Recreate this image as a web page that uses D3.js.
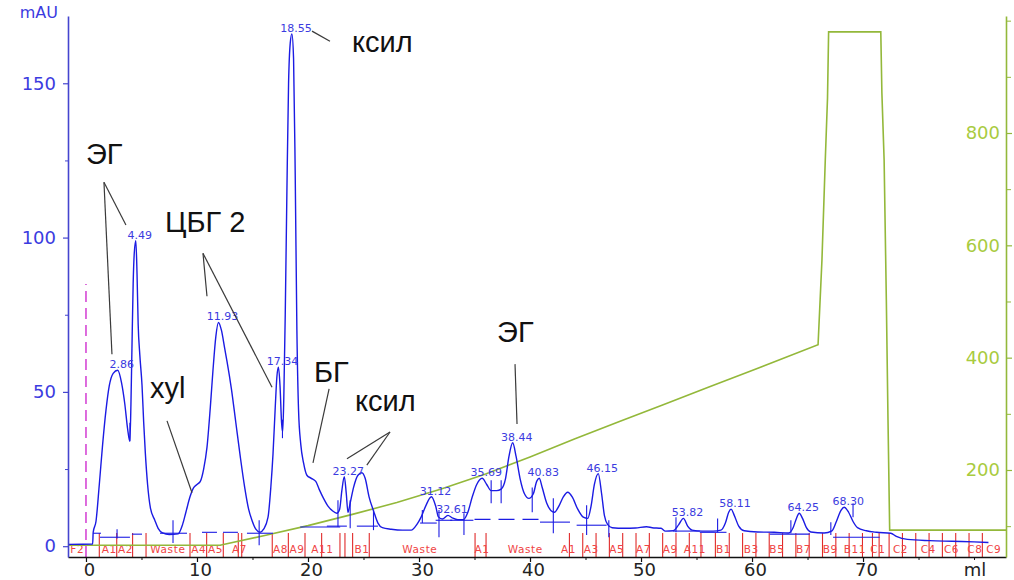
<!DOCTYPE html>
<html>
<head>
<meta charset="utf-8">
<script src="https://cdn.jsdelivr.net/npm/d3@7"></script>
<style>
  body { margin: 0; background: #fff; }
  svg { display: block; }
</style>
</head>
<body>
<svg id="chart" width="1014" height="580"></svg>
<script>
// UV absorbance trace: [volume ml, mAU]
const uvTrace = [
  [-1.62, 0.6], [0.6, 0.7], [0.65, 4.5], [0.9, 8], [1.2, 20], [1.5, 33], [1.8, 44],
  [2.1, 52], [2.45, 56], [2.86, 57], [3.2, 53], [3.5, 46], [3.75, 38], [3.95, 34],
  [4.05, 46], [4.14, 64], [4.25, 85], [4.35, 95], [4.49, 99], [4.6, 88], [4.7, 72],
  [4.85, 62], [5.05, 52], [5.2, 40], [5.35, 30], [5.55, 20], [5.8, 12.5], [6.2, 8.4],
  [6.5, 5.8], [6.9, 4.3], [7.5, 3.8], [8.3, 4], [8.7, 7], [9.0, 11], [9.37, 16],
  [9.7, 19], [10.0, 20], [10.3, 21], [10.6, 25], [10.9, 32], [11.2, 45], [11.44, 57],
  [11.7, 68], [11.93, 72.5], [12.2, 70], [12.5, 64], [12.7, 60], [13.1, 51], [13.5, 40],
  [13.9, 29], [14.3, 19], [14.65, 12], [14.95, 8.4], [15.3, 5.5], [15.68, 4.5], [16.0, 5.5],
  [16.4, 9.4], [16.65, 19], [16.85, 30], [17.05, 45], [17.2, 55], [17.34, 58], [17.48, 52],
  [17.62, 40], [17.72, 37], [17.82, 48], [17.95, 75], [18.1, 115], [18.25, 150], [18.4, 163],
  [18.55, 166], [18.7, 158], [18.85, 120], [19.0, 70], [19.15, 44], [19.35, 33], [19.6, 27],
  [19.9, 23], [20.3, 22], [20.7, 21], [21.0, 18.5], [21.4, 15.5], [21.8, 13], [22.2, 11.5],
  [22.6, 10.7], [22.85, 12], [23.05, 18], [23.27, 22.5], [23.45, 17], [23.6, 11], [23.8, 14],
  [24.1, 19], [24.5, 23], [24.85, 23.8], [25.15, 22], [25.5, 16], [25.9, 11.5], [26.3, 7.5],
  [26.7, 6], [27.5, 5.5], [28.5, 5.2], [29.3, 5.2], [29.8, 7], [30.2, 9.5], [30.6, 13],
  [31.12, 16], [31.5, 13], [31.75, 9.5], [32.1, 8.8], [32.61, 10], [33.0, 9.2], [33.5, 8.6],
  [34.0, 8.6], [34.4, 11], [34.8, 16], [35.2, 20], [35.69, 22], [36.1, 20], [36.5, 18],
  [37.0, 18], [37.4, 18.5], [37.8, 22], [38.1, 29], [38.44, 33.5], [38.75, 29], [39.1, 22],
  [39.5, 17], [39.9, 15.5], [40.3, 17], [40.6, 21], [40.83, 22], [41.1, 19], [41.5, 14],
  [41.9, 11.5], [42.2, 11], [42.6, 13], [43.0, 16], [43.4, 17.5], [43.8, 16], [44.3, 12],
  [44.8, 9.4], [45.2, 9], [45.5, 13], [45.8, 20], [46.15, 23.5], [46.45, 17], [46.7, 10],
  [47.0, 7], [47.4, 6], [48.5, 5.8], [49.5, 5.9], [50.5, 6.3], [51.0, 6.0], [51.8, 5.8],
  [52.2, 4.9], [52.9, 5], [53.4, 7], [53.82, 9], [54.2, 6.5], [54.6, 5.2], [55.5, 4.9],
  [56.5, 4.9], [57.2, 5.2], [57.6, 7.5], [57.9, 11], [58.11, 12], [58.4, 10], [58.8, 6.5],
  [59.3, 5], [60.5, 4.6], [62.0, 4.5], [63.3, 4.3], [63.7, 6], [64.0, 9], [64.25, 10.7],
  [64.55, 9], [64.9, 6], [65.3, 4.6], [66.5, 4.3], [67.2, 5], [67.6, 8], [68.0, 11.5],
  [68.3, 12.6], [68.7, 11], [69.1, 8], [69.5, 6], [70.3, 5], [71.2, 4.5], [72.5, 4.2],
  [73.0, 3.2], [74.0, 2.2], [76.0, 1.8], [78.0, 1.6], [80.0, 1.4], [81.3, 1.2]
];

// Gradient / concentration trace on the right axis: [volume ml, value]
const gradientTrace = [
  [-1.62, 66], [12.07, 66], [16, 83], [20, 101], [24, 121], [28, 142], [32, 166],
  [36, 193], [40, 223], [44, 255], [48, 286], [52, 316], [56, 347], [60, 377],
  [65.95, 423], [66.3, 574], [66.6, 752], [66.8, 862], [66.9, 980], [71.6, 980],
  [71.7, 871], [71.9, 752], [72.1, 503], [72.25, 289], [72.4, 93], [82.88, 93]
];

// Retention volumes printed above the peaks
const peakLabels = ["2.86", "4.49", "11.93", "17.34", "18.55", "23.27", "31.12", "32.61",
  "35.69", "38.44", "40.83", "46.15", "53.82", "58.11", "64.25", "68.30"];

// Integration baselines [from ml, to ml, mAU] and peak drop lines [ml, low mAU, high mAU]
const baselineSegments = [
  [0.63, 1.35, 4.2], [1.26, 3.96, 2.9], [4.14, 5.05, 3.9], [6.67, 9.1, 4.2],
  [10.45, 11.8, 4.5], [12.34, 13.69, 4.5], [14.5, 16.85, 4.2], [19.3, 22.9, 6.2],
  [21.7, 23.5, 6.5], [24.4, 26.3, 6.5], [30.1, 31.6, 7.5], [31.5, 33.0, 8.4],
  [32.8, 34.9, 8.4], [40.9, 43.6, 7.8], [44.2, 46.9, 6.8], [52.9, 55.3, 4.9],
  [55.3, 57.7, 4.5], [61.6, 65.2, 3.9], [67.3, 71.5, 2.9]
];
const dashedBaseline = [[35.0, 41.0, 8.7]];
const dropLines = [
  [2.8, 2.5, 5.5], [3.96, 34, 40], [7.84, 1, 8.4], [15.6, 0.3, 8.4], [17.7, 35, 41],
  [22.7, 6.2, 14.9], [23.8, 5.8, 14.9], [25.9, 5.2, 11.7], [30.3, 7.5, 11.7],
  [31.8, 2.9, 11.7], [34.05, 3.6, 10.7], [36.5, 13.9, 21.4], [37.4, 13.9, 21.4],
  [40.2, 11, 19], [42.1, 4.2, 15.5], [45.1, 3.6, 13.3], [47.1, 2.9, 8.4],
  [53.15, 4.5, 9.4], [56.9, 4.5, 9], [63.5, 4.2, 8.4], [67.1, 3.6, 7.8], [69.1, 9.4, 13.9]
];

// Fraction collector cuts (ml) and tube names [name, start ml]
const fractionCuts = [1.2, 2.77, 4.2, 5.41, 9.37, 10.87, 12.37, 13.72, 14.03, 16.78, 18.23,
  19.73, 21.23, 22.88, 23.33, 24.02, 25.52, 35.05, 36.04, 43.55, 44.75, 45.95, 47.15,
  48.35, 49.55, 50.75, 51.95, 53.15, 54.35, 55.4, 56.7, 57.95, 59.15, 60.35, 61.55,
  62.75, 63.95, 65.15, 66.35, 67.55, 68.75, 69.95, 70.85, 71.45, 72.35, 73.55, 74.75,
  75.95, 77.15, 78.35, 79.55, 80.75];
const fractionNames = [
  ["F2", -1.5], ["A1", 1.32], ["A2", 2.8], ["Waste", 5.7], ["A4", 9.4], ["A5", 10.9],
  ["A7", 13.06], ["A8", 16.75], ["A9", 18.25], ["A11", 20.2], ["B1", 24.1], ["Waste", 28.4],
  ["A1", 34.9], ["Waste", 37.9], ["A1", 42.7], ["A3", 44.75], ["A5", 47.05], ["A7", 49.46],
  ["A9", 51.86], ["A11", 53.75], ["B1", 56.67], ["B3", 59.16], ["B5", 61.47], ["B7", 63.87],
  ["B9", 66.28], ["B11", 68.17], ["C1", 70.57], ["C2", 72.6], ["C4", 75.1], ["C6", 77.2],
  ["C8", 79.3], ["C9", 81.0]
];
const injectionMark = [0, 85];

// Axis ticks
const xMajorTicks = [0, 10, 20, 30, 40, 50, 60, 70];
const xMinorTicks = [5, 15, 25, 35, 45, 55, 65, 75, 80];
const leftMajorTicks = [0, 50, 100, 150];
const leftMinorTicks = [25, 75, 125];
const rightMajorTicks = [200, 400, 600, 800];
const rightMinorTicks = [100, 300, 500, 700, 900, 1000];

// Annotations: [text, ml, mAU] and leader lines [ml1, mAU1, ml2, mAU2]
const annotations = [
  ["ЭГ", 0, 123.8], ["ЦБГ 2", 7.12, 101.8], ["ксил", 23.96, 160], ["xyl", 5.77, 47.9],
  ["БГ", 20.54, 53.1], ["ксил", 24.23, 43.7], ["ЭГ", 37.03, 66.1]
];
const leaders = [
  [1.62, 117.9, 2.34, 62.2], [1.62, 117.9, 3.6, 104.1],
  [10.54, 94.9, 10.9, 81], [10.54, 94.9, 16.76, 51.5],
  [20.36, 166.9, 21.98, 163.6], [7.3, 40.6, 9.55, 17.3],
  [21.9, 51, 20.45, 27], [27.39, 37, 23.51, 28.3], [27.39, 37, 25.3, 26.3],
  [38.65, 59, 38.83, 39.6]
];

// ---- scales ----
const x = d3.scaleLinear().domain([-1.62, 82.88]).range([68, 1006]);
const yL = d3.scaleLinear().domain([-3.5, 171.8]).range([557, 16]);
const yR = d3.scaleLinear().domain([45.1, 1008.3]).range([557, 16]);

const BLUE = "#1b1be3";
const AXIS_BLUE = "#4545cf";
const LABEL_BLUE = "#3b3be0";
const GREEN = "#93b83a";
const GREEN_TEXT = "#a9cb3f";
const RED = "#e02a2a";
const RED_TEXT = "#f04444";

const svg = d3.select("#chart");
const sans = "'DejaVu Sans', Verdana, sans-serif";

// ---- fraction marks ----
const frac = svg.append("g");
frac.selectAll("line").data(fractionCuts).join("line")
  .attr("x1", d => x(d)).attr("x2", d => x(d))
  .attr("y1", 533).attr("y2", 557)
  .attr("stroke", RED).attr("stroke-width", 1.1);
frac.selectAll("text").data(fractionNames).join("text")
  .attr("x", d => x(d[1]) + 1).attr("y", 553)
  .attr("font-family", sans).attr("font-size", 10.5)
  .attr("letter-spacing", 0.6)
  .attr("fill", RED_TEXT)
  .text(d => d[0]);

// injection mark
svg.append("line")
  .attr("x1", x(injectionMark[0])).attr("x2", x(injectionMark[0]))
  .attr("y1", 557).attr("y2", yL(injectionMark[1]))
  .attr("stroke", "#d23cd2").attr("stroke-width", 1.5)
  .attr("stroke-dasharray", "11,6");

// ---- gradient trace ----
svg.append("path")
  .datum(gradientTrace)
  .attr("fill", "none").attr("stroke", GREEN).attr("stroke-width", 1.6)
  .attr("d", d3.line().x(d => x(d[0])).y(d => yR(d[1])));

// ---- integration marks ----
const integ = svg.append("g").attr("stroke", BLUE).attr("stroke-width", 1.1);
integ.selectAll("line.seg").data(baselineSegments).join("line").attr("class", "seg")
  .attr("x1", d => x(d[0])).attr("x2", d => x(d[1]))
  .attr("y1", d => yL(d[2])).attr("y2", d => yL(d[2]));
integ.selectAll("line.dash").data(dashedBaseline).join("line").attr("class", "dash")
  .attr("x1", d => x(d[0])).attr("x2", d => x(d[1]))
  .attr("y1", d => yL(d[2])).attr("y2", d => yL(d[2]))
  .attr("stroke-dasharray", "16,8");
integ.selectAll("line.drop").data(dropLines).join("line").attr("class", "drop")
  .attr("x1", d => x(d[0])).attr("x2", d => x(d[0]))
  .attr("y1", d => yL(d[1])).attr("y2", d => yL(d[2]));

// ---- UV trace ----
svg.append("path")
  .datum(uvTrace)
  .attr("fill", "none").attr("stroke", BLUE).attr("stroke-width", 1.4)
  .attr("stroke-linejoin", "round")
  .attr("d", d3.line().x(d => x(d[0])).y(d => yL(d[1])).curve(d3.curveMonotoneX));

// ---- peak labels ----
const apex = v => uvTrace.find(p => Math.abs(p[0] - v) < 1e-9);
svg.append("g").selectAll("text").data(peakLabels).join("text")
  .attr("x", d => x(+d) + 4)
  .attr("y", d => yL(apex(+d)[1]) - 2)
  .attr("text-anchor", "middle")
  .attr("font-family", sans).attr("font-size", 11)
  .attr("fill", LABEL_BLUE)
  .text(d => d);

// ---- axes ----
function styleAxis(g, color, textColor, size) {
  g.select(".domain").attr("stroke", color).attr("stroke-width", 1.6);
  g.selectAll(".tick line").attr("stroke", color).attr("stroke-width", 1.2);
  g.selectAll(".tick text").attr("fill", textColor)
    .attr("font-family", sans).attr("font-size", size);
}

// bottom
const gx = svg.append("g").attr("transform", "translate(0,557)")
  .call(d3.axisBottom(x).tickValues(xMajorTicks).tickSize(5).tickSizeOuter(0).tickPadding(1));
styleAxis(gx, "#111", "#222", 18);
gx.selectAll(".tick text").attr("dx", 3);
svg.append("g").attr("transform", "translate(0,557)")
  .call(d3.axisBottom(x).tickValues(xMinorTicks).tickSize(3).tickFormat(""))
  .call(g => { g.select(".domain").remove(); g.selectAll("line").attr("stroke", "#111"); });
svg.append("text").attr("x", 975).attr("y", 576).attr("text-anchor", "middle")
  .attr("font-family", sans).attr("font-size", 18).attr("fill", "#222").text("ml");

// left
const gl = svg.append("g").attr("transform", "translate(68,0)")
  .call(d3.axisLeft(yL).tickValues(leftMajorTicks).tickSize(5).tickSizeOuter(0).tickPadding(7));
styleAxis(gl, AXIS_BLUE, LABEL_BLUE, 18);
svg.append("g").attr("transform", "translate(68,0)")
  .call(d3.axisLeft(yL).tickValues(leftMinorTicks).tickSize(3).tickFormat(""))
  .call(g => { g.select(".domain").remove(); g.selectAll("line").attr("stroke", AXIS_BLUE); });
svg.append("text").attr("x", 58).attr("y", 18).attr("text-anchor", "end")
  .attr("font-family", sans).attr("font-size", 16).attr("fill", LABEL_BLUE).text("mAU");

// right (ticks outward, labels inside)
const gr = svg.append("g").attr("transform", "translate(1006,0)")
  .call(d3.axisLeft(yR).tickValues(rightMajorTicks).tickFormat(d3.format("d"))
    .tickSize(-6).tickSizeOuter(0).tickPadding(6));
styleAxis(gr, GREEN, GREEN_TEXT, 18);
svg.append("g").attr("transform", "translate(1006,0)")
  .call(d3.axisRight(yR).tickValues(rightMinorTicks).tickSize(5).tickFormat(""))
  .call(g => { g.select(".domain").remove(); g.selectAll("line").attr("stroke", GREEN); });

// ---- annotations ----
svg.append("g").selectAll("line").data(leaders).join("line")
  .attr("x1", d => x(d[0])).attr("y1", d => yL(d[1]))
  .attr("x2", d => x(d[2])).attr("y2", d => yL(d[3]))
  .attr("stroke", "#3a3a3a").attr("stroke-width", 1.2);
svg.append("g").selectAll("text").data(annotations).join("text")
  .attr("x", d => x(d[1])).attr("y", d => yL(d[2]))
  .attr("font-family", "'Liberation Sans', Arial, sans-serif")
  .attr("font-size", 29).attr("fill", "#111")
  .text(d => d[0]);
</script>
</body>
</html>
